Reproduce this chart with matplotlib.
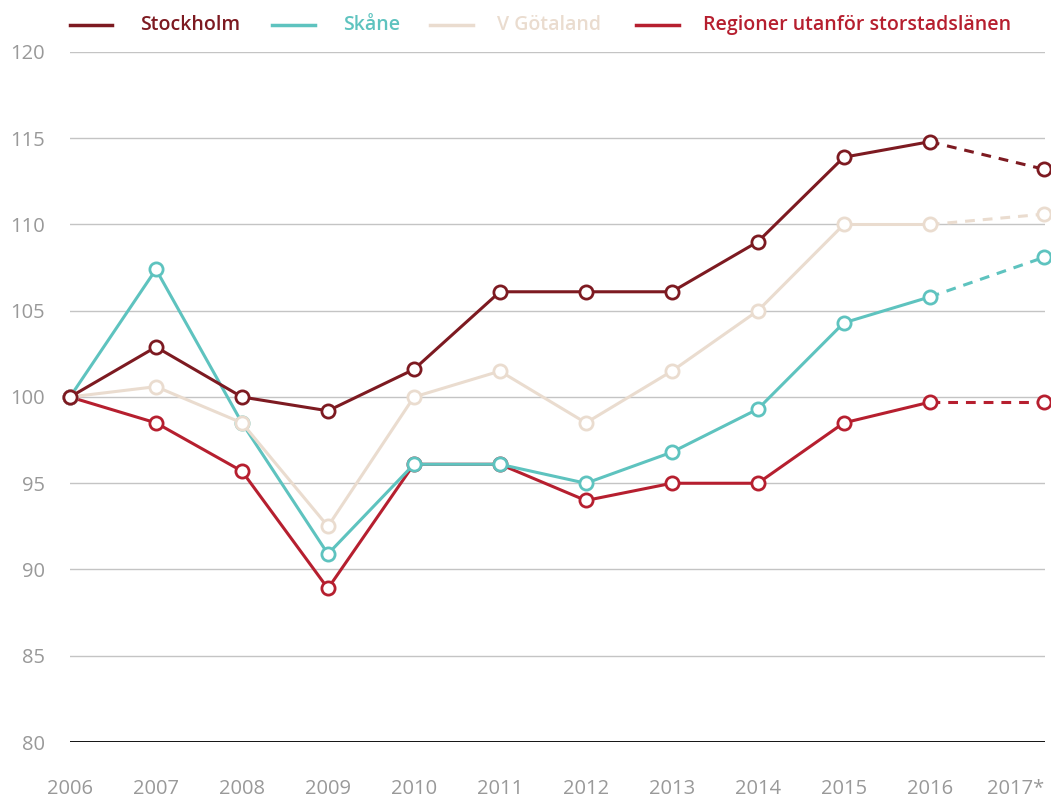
import matplotlib
matplotlib.use("Agg")
import matplotlib.pyplot as plt
from matplotlib.lines import Line2D

years = [2006, 2007, 2008, 2009, 2010, 2011, 2012, 2013, 2014, 2015, 2016, 2017]
year_labels = ["2006", "2007", "2008", "2009", "2010", "2011", "2012", "2013", "2014", "2015", "2016", "2017*"]

stockholm = [100, 102.9, 100.0, 99.2, 101.6, 106.1, 106.1, 106.1, 109.0, 113.9, 114.8, 113.2]
skane = [100, 107.4, 98.5, 90.9, 96.1, 96.1, 95.0, 96.8, 99.3, 104.3, 105.8, 108.1]
vgotaland = [100, 100.6, 98.5, 92.5, 100.0, 101.5, 98.5, 101.5, 105.0, 110.0, 110.0, 110.6]
regioner = [100, 98.5, 95.7, 88.9, 96.1, 96.1, 94.0, 95.0, 95.0, 98.5, 99.7, 99.7]

series_names = ["Stockholm", "Skåne", "V Götaland", "Regioner utanför storstadslänen"]
series_values = [stockholm, skane, vgotaland, regioner]
colors = ["#7d1a21", "#5ec3bf", "#eadccf", "#b61f2f"]
zorders = [6, 4, 5, 3]

yticks = [80, 85, 90, 95, 100, 105, 110, 115, 120]

plt.rcParams['font.family'] = ['Open Sans', 'DejaVu Sans']

# layout: categorical positions; the forecast year sits a bit further right
tick_pos = list(range(len(years)))
point_pos = tick_pos[:-1] + [11.33]

fig = plt.figure(figsize=(10.51, 7.99), dpi=100)
ax = fig.add_axes([70/1051, 1 - 742/799, (1045 - 70)/1051, (742 - 52)/799])

for y in yticks[1:]:
    ax.axhline(y, color="#c4c4c4", lw=1.0, zorder=1)
ax.axhline(80, color="black", lw=1.3, zorder=2)

for name, vals, c, z in zip(series_names, series_values, colors, zorders):
    ax.plot(point_pos[:-1], vals[:-1], color=c, lw=2.2, zorder=z, clip_on=False, solid_capstyle='round')
    ax.plot(point_pos[-2:], vals[-2:], color=c, lw=2.2, ls=(0, (3.2, 2.6)), zorder=z, clip_on=False)
    ax.plot(point_pos, vals, ls='none', marker='o', ms=9.5, mfc='white', mec=c, mew=2.0,
            zorder=z + 0.5, clip_on=False)

ax.set_xlim(0, 11.34)
ax.set_ylim(80, 120)
ax.set_xticks(tick_pos)
ax.set_xticklabels(year_labels)
ax.set_yticks(yticks)
ax.set_yticklabels([str(v) for v in yticks])
ax.tick_params(axis='both', length=0, labelsize=14.5, labelcolor="#999999")
for lab in ax.get_xticklabels() + ax.get_yticklabels():
    lab.set_fontweight('medium')
ax.tick_params(axis='x', pad=27)
ax.tick_params(axis='y', pad=18)
for s in ax.spines.values():
    s.set_visible(False)

# legend drawn manually in figure pixel coordinates
line_x = [(70, 112), (272, 315), (430, 473), (636, 679)]
text_x = [140, 343, 497, 703]
ly = 1 - 25/799
for (x0, x1), tx, name, c in zip(line_x, text_x, series_names, colors):
    fig.add_artist(Line2D([x0/1051, x1/1051], [ly, ly], color=c, lw=2.5, transform=fig.transFigure))
    fig.text(tx/1051, ly, name, color=c, fontsize=14, fontweight='semibold', va='center', ha='left')

fig.savefig("out.png", dpi=100)
